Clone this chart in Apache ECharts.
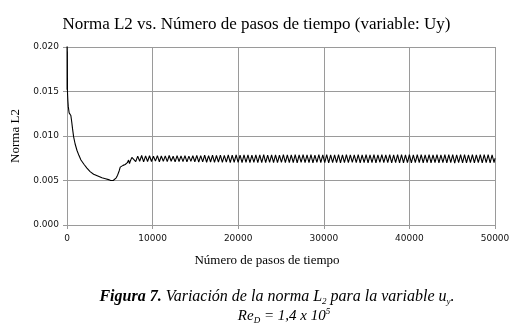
<!DOCTYPE html>
<html>
<head>
<meta charset="utf-8">
<script src="https://cdn.jsdelivr.net/npm/echarts@6/dist/echarts.min.js"></script>
<style>
  html, body { margin: 0; padding: 0; background: #fff; }
  #grafica { width: 513px; height: 333px; }
</style>
</head>
<body>
<div id="grafica"></div>
<script>
// Norma L2 vs. pasos de tiempo (variable Uy)
var titulo = 'Norma L2 vs. Número de pasos de tiempo (variable: Uy)';
var nombreEjeX = 'Número de pasos de tiempo';
var nombreEjeY = 'Norma L2';

// tramo inicial (caída y mínimo)
var pasosTransitorio = [
  0, 10, 20, 30, 40, 55, 70, 100, 150, 250, 350, 450, 550,
  650, 775, 950, 1160, 1400, 1630, 2000, 2330, 2700, 3110,
  3600, 4080, 4500, 4860, 5100, 5250, 5400, 5560, 5750, 5910,
  6100, 6220, 6350, 6420, 6550, 6650, 6800, 6950, 7050, 7190,
  7300, 7400, 7580
];
var normaTransitorio = [
  0.0300, 0.0152, 0.0200, 0.0153, 0.0195, 0.0150, 0.0146, 0.0140, 0.0133, 0.0126, 0.0124, 0.0123, 0.0116,
  0.0108, 0.0099, 0.0091, 0.0084, 0.0078, 0.0073, 0.0068, 0.0064, 0.0060, 0.0057,
  0.0055, 0.0053, 0.0052, 0.0051, 0.0050, 0.0049, 0.0050, 0.0050, 0.0053, 0.0056,
  0.0061, 0.0065, 0.0066, 0.0066, 0.0067, 0.0065, 0.0068, 0.0067, 0.0070, 0.0073,
  0.0069, 0.0072, 0.0076
];

// tramo oscilante
var pasosOscilacion = [
  7800, 8030, 8260, 8490, 8720, 8950, 9180, 9410,
  9640, 9870, 10100, 10330, 10560, 10790, 11020, 11250,
  11480, 11710, 11940, 12170, 12400, 12630, 12860, 13090,
  13320, 13550, 13780, 14010, 14240, 14470, 14700, 14930,
  15160, 15390, 15620, 15850, 16080, 16310, 16540, 16770,
  17000, 17230, 17460, 17690, 17920, 18150, 18380, 18610,
  18840, 19070, 19300, 19530, 19760, 19990, 20220, 20450,
  20680, 20910, 21140, 21370, 21600, 21830, 22060, 22290,
  22520, 22750, 22980, 23210, 23440, 23670, 23900, 24130,
  24360, 24590, 24820, 25050, 25280, 25510, 25740, 25970,
  26200, 26430, 26660, 26890, 27120, 27350, 27580, 27810,
  28040, 28270, 28500, 28730, 28960, 29190, 29420, 29650,
  29880, 30110, 30340, 30570, 30800, 31030, 31260, 31490,
  31720, 31950, 32180, 32410, 32640, 32870, 33100, 33330,
  33560, 33790, 34020, 34250, 34480, 34710, 34940, 35170,
  35400, 35630, 35860, 36090, 36320, 36550, 36780, 37010,
  37240, 37470, 37700, 37930, 38160, 38390, 38620, 38850,
  39080, 39310, 39540, 39770, 40000, 40230, 40460, 40690,
  40920, 41150, 41380, 41610, 41840, 42070, 42300, 42530,
  42760, 42990, 43220, 43450, 43680, 43910, 44140, 44370,
  44600, 44830, 45060, 45290, 45520, 45750, 45980, 46210,
  46440, 46670, 46900, 47130, 47360, 47590, 47820, 48050,
  48280, 48510, 48740, 48970, 49200, 49430, 49660, 49890,
  50000
];
var normaOscilacion = [
  0.00779, 0.00712, 0.00774, 0.00716, 0.00781, 0.00710, 0.00776, 0.00714,
  0.00778, 0.00713, 0.00772, 0.00718, 0.00780, 0.00711, 0.00775, 0.00715,
  0.00777, 0.00712, 0.00781, 0.00716, 0.00773, 0.00710, 0.00779, 0.00714,
  0.00776, 0.00712, 0.00780, 0.00709, 0.00774, 0.00715, 0.00778, 0.00711,
  0.00783, 0.00706, 0.00779, 0.00709, 0.00784, 0.00705, 0.00780, 0.00708,
  0.00785, 0.00704, 0.00781, 0.00707, 0.00786, 0.00703, 0.00782, 0.00706,
  0.00787, 0.00702, 0.00784, 0.00705, 0.00788, 0.00703, 0.00785, 0.00701,
  0.00787, 0.00704, 0.00789, 0.00700, 0.00786, 0.00703, 0.00788, 0.00701,
  0.00787, 0.00702, 0.00790, 0.00700, 0.00786, 0.00704, 0.00789, 0.00701,
  0.00788, 0.00700, 0.00786, 0.00703, 0.00790, 0.00701, 0.00787, 0.00702,
  0.00789, 0.00700, 0.00791, 0.00699, 0.00787, 0.00703, 0.00790, 0.00700,
  0.00788, 0.00702, 0.00790, 0.00699, 0.00786, 0.00703, 0.00791, 0.00701,
  0.00789, 0.00700, 0.00790, 0.00698, 0.00787, 0.00702, 0.00789, 0.00700,
  0.00791, 0.00699, 0.00788, 0.00702, 0.00790, 0.00700, 0.00787, 0.00703,
  0.00789, 0.00701, 0.00792, 0.00698, 0.00788, 0.00702, 0.00790, 0.00699,
  0.00788, 0.00701, 0.00791, 0.00697, 0.00787, 0.00703, 0.00791, 0.00700,
  0.00789, 0.00700, 0.00792, 0.00698, 0.00788, 0.00702, 0.00790, 0.00699,
  0.00791, 0.00697, 0.00788, 0.00701, 0.00790, 0.00699, 0.00787, 0.00702,
  0.00790, 0.00700, 0.00792, 0.00697, 0.00788, 0.00701, 0.00791, 0.00698,
  0.00789, 0.00700, 0.00791, 0.00698, 0.00787, 0.00702, 0.00792, 0.00699,
  0.00790, 0.00700, 0.00792, 0.00696, 0.00788, 0.00701, 0.00791, 0.00698,
  0.00791, 0.00699, 0.00789, 0.00700, 0.00792, 0.00697, 0.00788, 0.00701,
  0.00791, 0.00698, 0.00790, 0.00700, 0.00792, 0.00697, 0.00789, 0.00701,
  0.00750
];

var pasos = pasosTransitorio.concat(pasosOscilacion);
var normaL2 = normaTransitorio.concat(normaOscilacion);
var datos = pasos.map(function (p, i) { return [p, normaL2[i]]; });

var colorRejilla = '#9a9a9a';
var fuenteSerif = 'Liberation Serif';
var fuenteEje = 'DejaVu Sans';

var dom = document.getElementById('grafica');
var myChart = echarts.init(dom, null, { renderer: 'canvas' });

var option = {
  backgroundColor: '#fff',
  animation: false,
  title: {
    text: titulo,
    left: 'center',
    top: 11,
    textStyle: { fontFamily: fuenteSerif, fontSize: 17, fontWeight: 'normal', color: '#000' }
  },
  grid: {
    left: 67,
    right: 18,
    top: 47,
    bottom: 108
  },
  xAxis: {
    type: 'value',
    min: 0,
    max: 50000,
    interval: 10000,
    name: nombreEjeX,
    nameLocation: 'middle',
    nameGap: 29,
    nameTextStyle: { fontFamily: fuenteSerif, fontSize: 13, color: '#000', padding: [0, 28, 0, 0] },
    axisLine: { show: true, lineStyle: { color: colorRejilla } },
    axisTick: { show: true, inside: false, length: 4, lineStyle: { color: colorRejilla } },
    axisLabel: {
      fontFamily: fuenteEje, fontSize: 9, color: '#111', margin: 9,
      formatter: function (value) { return String(value); }
    },
    splitLine: { show: true, lineStyle: { color: colorRejilla, width: 1 } }
  },
  yAxis: {
    type: 'value',
    min: 0,
    max: 0.02,
    interval: 0.005,
    name: nombreEjeY,
    nameLocation: 'middle',
    nameGap: 44,
    nameTextStyle: { fontFamily: fuenteSerif, fontSize: 13, color: '#000' },
    axisLine: { show: true, lineStyle: { color: colorRejilla } },
    axisTick: { show: true, inside: false, length: 4, lineStyle: { color: colorRejilla } },
    axisLabel: {
      fontFamily: fuenteEje, fontSize: 9, color: '#111', margin: 8,
      formatter: function (value) { return value.toFixed(3); }
    },
    splitLine: { show: true, lineStyle: { color: colorRejilla, width: 1 } }
  },
  graphic: [
    {
      type: 'text',
      x: 277,
      y: 297,
      style: {
        text: '{b|Figura 7.}{i| Variación de la norma L}{sub|2}{i| para la variable u}{sub|y}{i|.}',
        align: 'center',
        verticalAlign: 'middle',
        rich: {
          b: { fontFamily: fuenteSerif, fontSize: 16, fontStyle: 'italic', fontWeight: 'bold', lineHeight: 18, fill: '#000' },
          i: { fontFamily: fuenteSerif, fontSize: 16, fontStyle: 'italic', lineHeight: 18, fill: '#000' },
          sub: { fontFamily: fuenteSerif, fontSize: 9, fontStyle: 'italic', lineHeight: 18, verticalAlign: 'bottom', padding: [7, 0, 0, 0], fill: '#000' }
        }
      }
    },
    {
      type: 'text',
      x: 284,
      y: 316,
      style: {
        text: '{i|Re}{sub|D}{i| = 1,4 x 10}{sup|5}',
        align: 'center',
        verticalAlign: 'middle',
        rich: {
          i: { fontFamily: fuenteSerif, fontSize: 15, fontStyle: 'italic', lineHeight: 18, fill: '#000' },
          sub: { fontFamily: fuenteSerif, fontSize: 9, fontStyle: 'italic', lineHeight: 18, verticalAlign: 'bottom', padding: [7, 0, 0, 0], fill: '#000' },
          sup: { fontFamily: fuenteSerif, fontSize: 9, fontStyle: 'italic', lineHeight: 18, verticalAlign: 'top', padding: [0, 0, 7, 0], fill: '#000' }
        }
      }
    }
  ],
  series: [
    {
      type: 'line',
      data: datos,
      showSymbol: false,
      clip: true,
      lineStyle: { color: '#000', width: 1.1 },
      itemStyle: { color: '#000' }
    }
  ]
};

if (option && typeof option === 'object') {
  myChart.setOption(option);
}

window.addEventListener('resize', myChart.resize);
</script>
</body>
</html>
